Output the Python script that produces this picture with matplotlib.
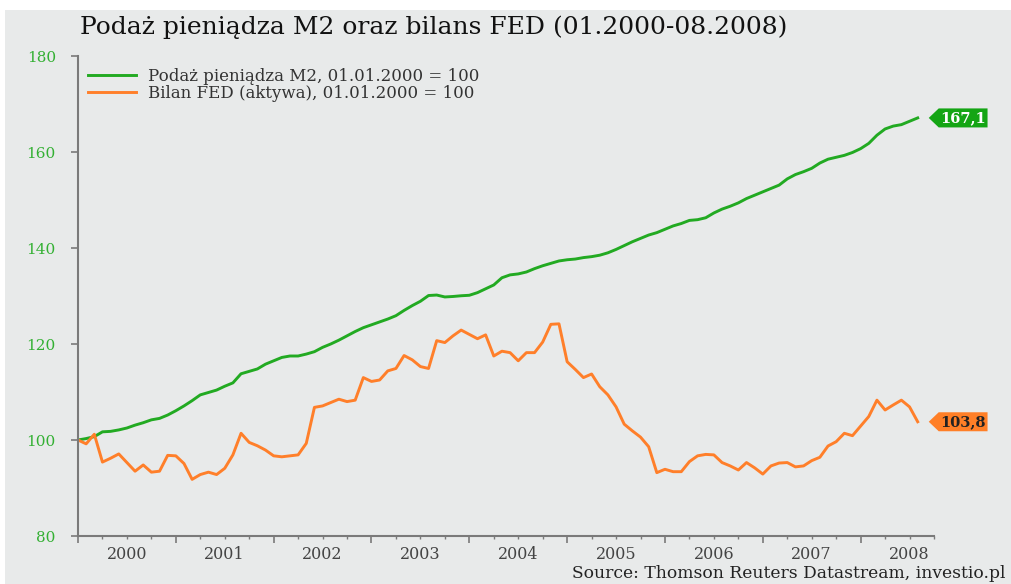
import numpy as np
import matplotlib
matplotlib.use("Agg")
import matplotlib.pyplot as plt
from matplotlib.patches import Polygon, Rectangle

# data: monthly, 01.2000 - 08.2008 (104 months), 01.01.2000 = 100
m2 = [100.0, 100.3, 100.7, 101.7, 101.8, 102.1, 102.5, 103.1, 103.6, 104.2, 104.5, 105.2,
      106.1, 107.1, 108.2, 109.4, 109.9, 110.4, 111.2, 111.9, 113.8, 114.3, 114.8, 115.8,
      116.5, 117.2, 117.5, 117.5, 117.9, 118.4, 119.3, 120.0, 120.8, 121.7, 122.6, 123.4,
      124.0, 124.6, 125.2, 125.9, 127.0, 128.0, 128.9, 130.1, 130.2, 129.8, 129.9, 130.05,
      130.15, 130.7, 131.5, 132.3, 133.8, 134.4, 134.6, 135.0, 135.7, 136.3, 136.8, 137.3,
      137.55, 137.7, 138.0, 138.2, 138.5, 139.0, 139.7, 140.5, 141.3, 142.0, 142.7, 143.2,
      143.9, 144.6, 145.1, 145.75, 145.9, 146.3, 147.3, 148.1, 148.7, 149.4, 150.3, 151.0,
      151.7, 152.4, 153.1, 154.4, 155.3, 155.9, 156.6, 157.7, 158.5, 158.9, 159.3, 159.9,
      160.7, 161.8, 163.5, 164.8, 165.4, 165.7, 166.4, 167.1]
fed = [100.0, 99.2, 101.2, 95.4, 96.2, 97.1, 95.3, 93.5, 94.8, 93.3, 93.5, 96.8,
       96.7, 95.1, 91.8, 92.8, 93.3, 92.8, 94.1, 96.9, 101.4, 99.5, 98.8, 97.9,
       96.7, 96.5, 96.7, 96.9, 99.3, 106.8, 107.1, 107.8, 108.5, 108.0, 108.3, 113.0,
       112.2, 112.5, 114.4, 114.9, 117.6, 116.7, 115.3, 114.9, 120.7, 120.3, 121.7, 122.9,
       122.0, 121.1, 121.9, 117.5, 118.5, 118.2, 116.5, 118.2, 118.2, 120.4, 124.1, 124.2,
       116.3, 114.7, 113.0, 113.75, 111.1, 109.4, 106.9, 103.3, 101.9, 100.6, 98.6, 93.2,
       93.9, 93.4, 93.4, 95.5, 96.7, 97.0, 96.9, 95.3, 94.6, 93.75, 95.3, 94.2,
       92.9, 94.6, 95.2, 95.3, 94.4, 94.6, 95.7, 96.4, 98.75, 99.65, 101.4, 100.9,
       102.9, 104.9, 108.3, 106.25, 107.3, 108.3, 106.9, 103.8]
years = list(range(2000, 2009))
yticks = [80, 100, 120, 140, 160, 180]

t = 2000 + np.arange(len(m2)) / 12.0

BG = "#e8eaea"
GREEN = "#22aa22"
ORANGE = "#ff7f2a"
AXC = "#7a7a7a"
plt.rcParams['font.family'] = ['DejaVu Serif']

fig = plt.figure(figsize=(10.11, 5.84), dpi=100, facecolor="white")
fig.patches.append(Rectangle((5 / 1011, 0), 1, 574 / 584, transform=fig.transFigure,
                             facecolor=BG, edgecolor="none", zorder=-10))
ax = fig.add_axes([78 / 1011, 48 / 584, 856 / 1011, 480 / 584])
ax.patch.set_alpha(0)

ax.plot(t, m2, color=GREEN, lw=2.1, label="Podaż pieniądza M2, 01.01.2000 = 100")
ax.plot(t, fed, color=ORANGE, lw=2.1, label="Bilan FED (aktywa), 01.01.2000 = 100")

ax.set_xlim(2000, 2000 + 104.6 / 12)
ax.set_ylim(80, 180)

# y axis
ax.set_yticks(yticks)
ax.tick_params(axis="y", colors=AXC, labelcolor="#33b033", labelsize=11, length=5,
               width=1.2, pad=11)

# x axis: year ticks, quarterly minor ticks, year label at mid-year
quarters = [y + q / 4 for y in years for q in (1, 2, 3)]
ax.set_xticks(years, [])
ax.set_xticks(quarters, [str(int(q)) if q % 1 == 0.5 else "" for q in quarters], minor=True)
ax.tick_params(axis="x", which="major", colors=AXC, length=5, width=1.2)
ax.tick_params(axis="x", which="minor", colors=AXC, length=2.5, width=1.0,
               labelsize=11.5, labelcolor="#444444", pad=5)

for s in ("top", "right"):
    ax.spines[s].set_visible(False)
for s in ("left", "bottom"):
    ax.spines[s].set_color(AXC)
    ax.spines[s].set_linewidth(1.5)

leg = fig.legend(loc="upper left", bbox_to_anchor=(88 / 1011, 1 - 68 / 584), frameon=False,
                 fontsize=12, handlelength=2.9, handletextpad=0.7, labelspacing=0.0,
                 borderpad=0, borderaxespad=0)
for txt in leg.get_texts():
    txt.set_color("#333333")

# end value tags
def tag(value, face, tcolor):
    x0 = t[-1] + 0.113
    xb = t[-1] + 0.215
    x1 = t[-1] + 0.714
    h = 1.98
    poly = Polygon([(x0, value), (xb, value + h), (x1, value + h), (x1, value - h), (xb, value - h)],
                   closed=True, facecolor=face, edgecolor="none", clip_on=False, zorder=5)
    ax.add_patch(poly)
    ax.text((xb + x1) / 2, value, f"{value:.1f}".replace(".", ","), ha="center", va="center",
            fontsize=10.5, color=tcolor, fontweight="bold", clip_on=False, zorder=6)

tag(m2[-1], "#14a514", "white")
tag(fed[-1], "#ff7f27", "#222222")

fig.text(80 / 1011, 1 - 27 / 584, "Podaż pieniądza M2 oraz bilans FED (01.2000-08.2008)",
         fontsize=18, color="#111111", ha="left", va="center")
fig.text(1006 / 1011, 1 - 573 / 584, "Source: Thomson Reuters Datastream, investio.pl",
         fontsize=12.3, color="#222222", ha="right", va="center")

fig.savefig("out.png", dpi=100, facecolor=fig.get_facecolor())
